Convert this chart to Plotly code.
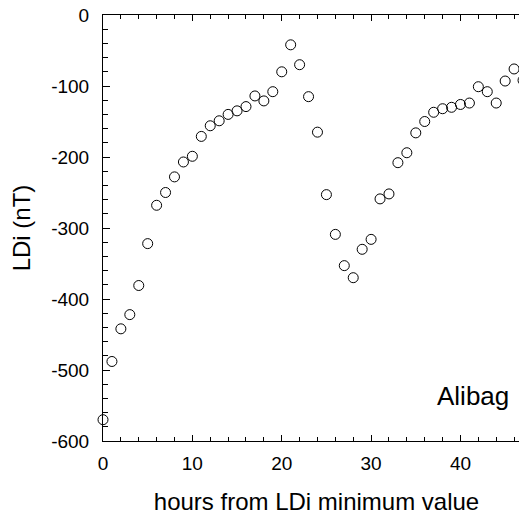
import plotly.graph_objects as go

hours = list(range(0, 49))
ldi = [-570, -488, -442, -422, -381, -322, -268, -250, -228, -207,
       -199, -171, -156, -149, -140, -135, -129, -114, -121, -108,
       -80, -42, -70, -115, -165, -253, -309, -353, -370, -330,
       -316, -259, -252, -208, -194, -166, -150, -137, -132, -130,
       -126, -124, -101, -108, -124, -93, -76, -92, -90]

x_ticks = [0, 10, 20, 30, 40]
y_ticks = [0, -100, -200, -300, -400, -500, -600]
station = "Alibag"

FONT = "Liberation Sans, Arial, sans-serif"

fig = go.Figure()
fig.add_trace(go.Scatter(
    x=hours, y=ldi, mode="markers",
    marker=dict(symbol="circle-open", size=10, color="black", line=dict(width=1, color="black")),
    cliponaxis=False, showlegend=False,
))
# invisible trace to attach the right-hand tick axis
fig.add_trace(go.Scatter(x=[0], y=[0], yaxis="y2", mode="markers",
                         marker=dict(opacity=0), showlegend=False, hoverinfo="skip"))

fig.update_layout(
    width=527, height=517,
    margin=dict(l=95, r=5, t=7, b=84),
    paper_bgcolor="white", plot_bgcolor="white",
    font=dict(family=FONT, color="black"),
    xaxis=dict(
        range=[0, 47.78], tickvals=x_ticks, ticktext=[str(v) for v in x_ticks],
        ticks="inside", ticklen=6, tickwidth=1, tickcolor="black",
        minor=dict(dtick=2, ticks="inside", ticklen=4, tickwidth=1, tickcolor="black"),
        showline=True, linecolor="black", linewidth=1, mirror="ticks",
        showgrid=False, zeroline=False, automargin=False,
        tickfont=dict(size=19, family=FONT),
        ticklabelstandoff=5, ticklabeloverflow="allow",
        title=dict(text="hours from LDi minimum value", font=dict(size=24, family=FONT), standoff=20),
    ),
    yaxis=dict(
        range=[-600, 0], tickvals=y_ticks, ticktext=[str(v) for v in y_ticks],
        ticks="inside", ticklen=7, tickwidth=1, tickcolor="black",
        minor=dict(dtick=20, ticks="inside", ticklen=5, tickwidth=1, tickcolor="black"),
        showline=True, linecolor="black", linewidth=1, mirror=False,
        showgrid=False, zeroline=False, automargin=False,
        tickfont=dict(size=19, family=FONT),
        ticklabelstandoff=9, ticklabeloverflow="allow",
        title=dict(text="LDi (nT)", font=dict(size=24, family=FONT), standoff=18),
    ),
    yaxis2=dict(
        range=[-600, 0], overlaying="y", side="right", anchor="x",
        tickvals=y_ticks, showticklabels=False, automargin=False,
        ticks="inside", ticklen=7, tickwidth=1, tickcolor="black",
        minor=dict(dtick=20, ticks="inside", ticklen=5, tickwidth=1, tickcolor="black"),
        showline=False, showgrid=False, zeroline=False,
    ),
    annotations=[dict(
        text=station, x=45.65, y=-537, xref="x", yref="y",
        xanchor="right", yanchor="middle", showarrow=False,
        font=dict(size=26, family=FONT, color="black"),
    )],
)

fig.write_html("out.html")
